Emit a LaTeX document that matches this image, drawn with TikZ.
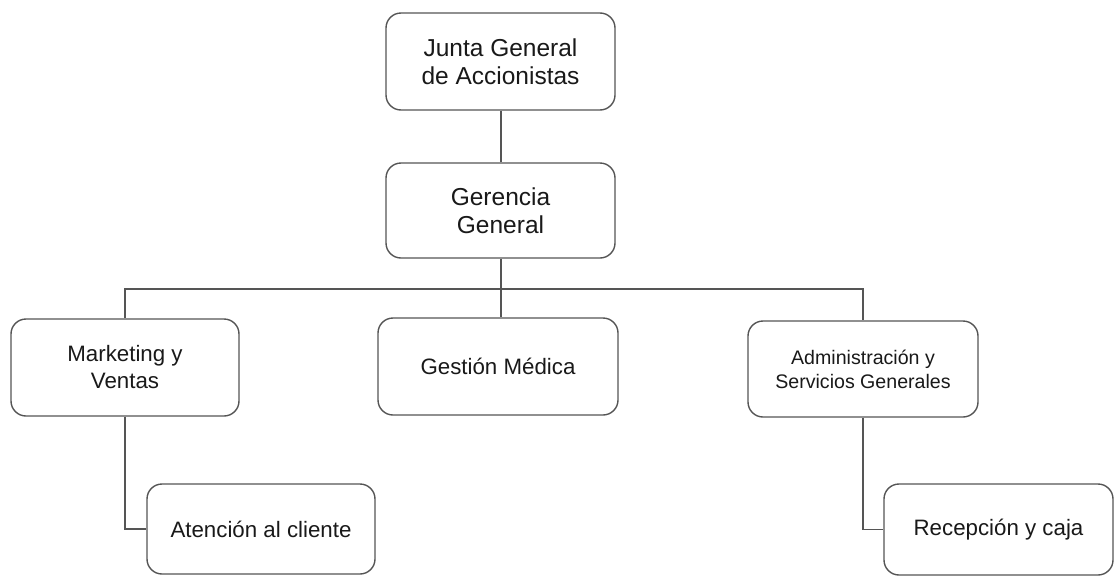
\documentclass[tikz,border=0pt]{standalone}
\usepackage{fontspec}
\setmainfont{Liberation Sans}
\definecolor{edge}{RGB}{85,85,85}
\definecolor{ink}{RGB}{25,25,25}
\tikzset{
  box/.style={draw=edge, line width=1.4pt, rounded corners=15pt, fill=white,
    inner sep=0pt, align=center, text=ink},
  conn/.style={draw=edge, line width=1.3pt},
  big/.style={font=\fontsize{24.5}{28}\selectfont},
  mid/.style={font=\fontsize{22.3}{27}\selectfont},
  small/.style={font=\fontsize{19.6}{24}\selectfont}
}
\begin{document}
\begin{tikzpicture}[x=1pt,y=-1pt]
\useasboundingbox (0,0) rectangle (1114,576);
\node[box,big,minimum width=229pt,minimum height=97pt] (junta) at (500.5,61.5) {Junta General\\de Accionistas};
\node[box,big,minimum width=229pt,minimum height=95pt] (ger) at (500.5,210.5) {Gerencia\\General};
\node[box,mid,minimum width=228pt,minimum height=97pt] (mkt) at (125,367.5) {Marketing y\\Ventas};
\node[box,mid,minimum width=240pt,minimum height=97pt] (ges) at (498,366.5) {Gesti\'on M\'edica};
\node[box,small,minimum width=230pt,minimum height=96pt] (adm) at (863,369) {Administraci\'on y\\Servicios Generales};
\node[box,mid,minimum width=228pt,minimum height=90pt] (ate) at (261,529) {Atenci\'on al cliente};
\node[box,mid,minimum width=229pt,minimum height=91pt] (rec) at (998.5,529.5) {Recepci\'on y caja};
\coordinate (bus) at (501,289);
\draw[conn] (junta.south -| bus) -- (ger.north -| bus);
\draw[conn] (ger.south -| bus) -- (bus);
\draw[conn] (bus) -| (mkt.north);
\draw[conn] (bus) -| (adm.north);
\draw[conn] (bus) -- (ges.north -| bus);
\draw[conn] (mkt.south) |- (ate.west);
\draw[conn] (adm.south) |- (rec.west);
\end{tikzpicture}
\end{document}
